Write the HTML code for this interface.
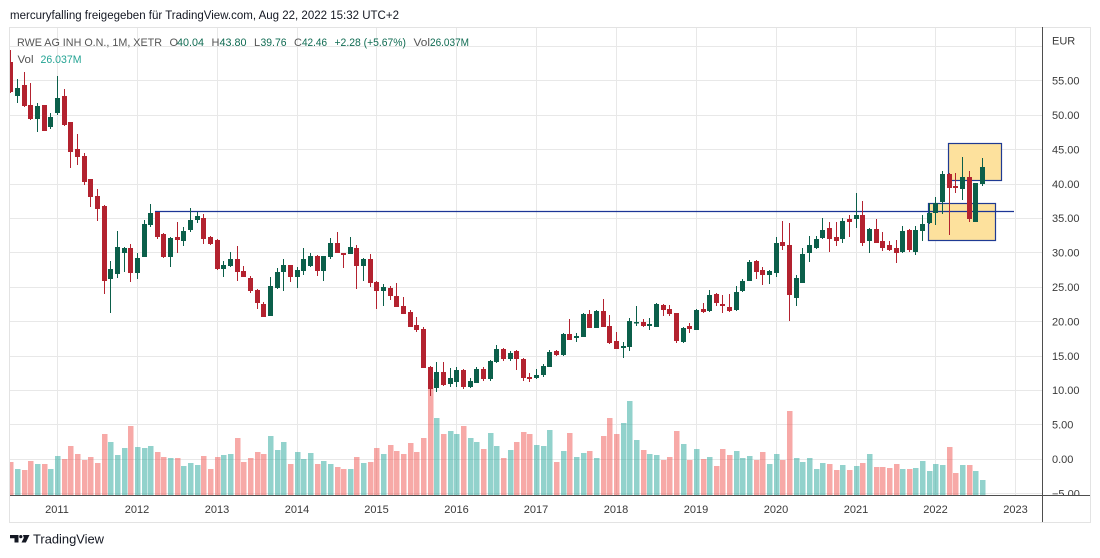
<!DOCTYPE html>
<html><head><meta charset="utf-8"><style>
html,body{margin:0;padding:0;background:#fff;width:1100px;height:558px;overflow:hidden}
svg{display:block;font-family:"Liberation Sans",sans-serif}
</style></head><body>
<svg width="1100" height="558" viewBox="0 0 1100 558" xmlns="http://www.w3.org/2000/svg">
<defs>
<clipPath id="plot"><rect x="10" y="27" width="1032" height="468"/></clipPath>
<clipPath id="axisclip"><rect x="1043" y="27" width="47" height="468"/></clipPath>
</defs>
<rect width="1100" height="558" fill="#fff"/>
<text x="10" y="19" font-size="11.5" fill="#131722" textLength="389" lengthAdjust="spacingAndGlyphs">mercuryfalling freigegeben für TradingView.com, Aug 22, 2022 15:32 UTC+2</text>

<!-- frame -->
<rect x="9.5" y="27.5" width="1081" height="495" fill="none" stroke="#e3e3e3"/>

<!-- grid -->
<g stroke="#e8e8e8" stroke-width="1" fill="none">
<path d="M10 46.5H1042M10 80.5H1042M10 115.5H1042M10 149.5H1042M10 184.5H1042M10 218.5H1042M10 252.5H1042M10 287.5H1042M10 321.5H1042M10 356.5H1042M10 390.5H1042M10 424.5H1042M10 459.5H1042M10 493.5H1042"/>
<path d="M57.5 28V495M137.5 28V495M217.5 28V495M297.5 28V495M376.5 28V495M456.5 28V495M536.5 28V495M616.5 28V495M696.5 28V495M776.5 28V495M856.5 28V495M935.5 28V495M1015.5 28V495"/>
</g>

<g clip-path="url(#plot)">
<!-- volume -->
<path fill="rgba(38,166,154,0.5)" d="M15 469h5.5V495h-5.5zM35 464h5.5V495h-5.5zM48 469h5.5V495h-5.5zM55 456h5.5V495h-5.5zM108 442h5.5V495h-5.5zM115 455h5.5V495h-5.5zM122 448h5.5V495h-5.5zM135 447h5.5V495h-5.5zM142 448h5.5V495h-5.5zM148 446h5.5V495h-5.5zM168 458h5.5V495h-5.5zM181 466h5.5V495h-5.5zM188 463h5.5V495h-5.5zM195 465h5.5V495h-5.5zM221 455h5.5V495h-5.5zM228 454h5.5V495h-5.5zM268 436h5.5V495h-5.5zM275 450h5.5V495h-5.5zM281 442h5.5V495h-5.5zM295 452h5.5V495h-5.5zM301 459h5.5V495h-5.5zM308 453h5.5V495h-5.5zM321 461h5.5V495h-5.5zM328 464h5.5V495h-5.5zM348 469h5.5V495h-5.5zM361 463h5.5V495h-5.5zM381 454h5.5V495h-5.5zM434 418h5.5V495h-5.5zM448 431h5.5V495h-5.5zM454 434h5.5V495h-5.5zM468 438h5.5V495h-5.5zM474 442h5.5V495h-5.5zM488 433h5.5V495h-5.5zM494 446h5.5V495h-5.5zM508 450h5.5V495h-5.5zM534 445h5.5V495h-5.5zM541 446h5.5V495h-5.5zM547 430h5.5V495h-5.5zM561 451h5.5V495h-5.5zM574 457h5.5V495h-5.5zM581 453h5.5V495h-5.5zM594 458h5.5V495h-5.5zM621 423h5.5V495h-5.5zM627 401h5.5V495h-5.5zM634 440h5.5V495h-5.5zM647 454h5.5V495h-5.5zM654 455h5.5V495h-5.5zM681 444h5.5V495h-5.5zM694 449h5.5V495h-5.5zM707 457h5.5V495h-5.5zM734 451h5.5V495h-5.5zM740 458h5.5V495h-5.5zM747 456h5.5V495h-5.5zM767 464h5.5V495h-5.5zM774 454h5.5V495h-5.5zM794 458h5.5V495h-5.5zM800 462h5.5V495h-5.5zM807 458h5.5V495h-5.5zM814 469h5.5V495h-5.5zM820 463h5.5V495h-5.5zM840 465h5.5V495h-5.5zM854 466h5.5V495h-5.5zM867 454h5.5V495h-5.5zM900 469h5.5V495h-5.5zM913 468h5.5V495h-5.5zM920 461h5.5V495h-5.5zM927 471h5.5V495h-5.5zM933 464h5.5V495h-5.5zM940 465h5.5V495h-5.5zM960 465h5.5V495h-5.5zM973 471h5.5V495h-5.5zM980 480h5.5V495h-5.5z"/>
<path fill="rgba(239,83,80,0.5)" d="M8 462h5.5V495h-5.5zM22 470h5.5V495h-5.5zM28 461h5.5V495h-5.5zM42 464h5.5V495h-5.5zM62 459h5.5V495h-5.5zM68 446h5.5V495h-5.5zM75 454h5.5V495h-5.5zM82 460h5.5V495h-5.5zM88 457h5.5V495h-5.5zM95 463h5.5V495h-5.5zM102 434h5.5V495h-5.5zM128 426h5.5V495h-5.5zM155 452h5.5V495h-5.5zM161 457h5.5V495h-5.5zM175 458h5.5V495h-5.5zM201 456h5.5V495h-5.5zM208 469h5.5V495h-5.5zM215 457h5.5V495h-5.5zM235 438h5.5V495h-5.5zM241 462h5.5V495h-5.5zM248 458h5.5V495h-5.5zM255 452h5.5V495h-5.5zM261 454h5.5V495h-5.5zM288 464h5.5V495h-5.5zM315 464h5.5V495h-5.5zM335 467h5.5V495h-5.5zM341 469h5.5V495h-5.5zM354 457h5.5V495h-5.5zM368 462h5.5V495h-5.5zM374 448h5.5V495h-5.5zM388 445h5.5V495h-5.5zM394 451h5.5V495h-5.5zM401 454h5.5V495h-5.5zM408 443h5.5V495h-5.5zM414 452h5.5V495h-5.5zM421 438h5.5V495h-5.5zM428 379h5.5V495h-5.5zM441 434h5.5V495h-5.5zM461 426h5.5V495h-5.5zM481 449h5.5V495h-5.5zM501 458h5.5V495h-5.5zM514 442h5.5V495h-5.5zM521 432h5.5V495h-5.5zM527 434h5.5V495h-5.5zM554 462h5.5V495h-5.5zM567 433h5.5V495h-5.5zM587 451h5.5V495h-5.5zM601 436h5.5V495h-5.5zM607 418h5.5V495h-5.5zM614 434h5.5V495h-5.5zM641 450h5.5V495h-5.5zM661 460h5.5V495h-5.5zM667 457h5.5V495h-5.5zM674 431h5.5V495h-5.5zM687 460h5.5V495h-5.5zM701 459h5.5V495h-5.5zM714 466h5.5V495h-5.5zM720 449h5.5V495h-5.5zM727 455h5.5V495h-5.5zM754 460h5.5V495h-5.5zM760 452h5.5V495h-5.5zM780 460h5.5V495h-5.5zM787 411h5.5V495h-5.5zM827 464h5.5V495h-5.5zM834 470h5.5V495h-5.5zM847 470h5.5V495h-5.5zM860 463h5.5V495h-5.5zM874 467h5.5V495h-5.5zM880 467h5.5V495h-5.5zM887 468h5.5V495h-5.5zM894 464h5.5V495h-5.5zM907 469h5.5V495h-5.5zM947 447h5.5V495h-5.5zM953 473h5.5V495h-5.5zM967 465h5.5V495h-5.5z"/>

<!-- drawings -->
<rect x="948.5" y="143.5" width="53" height="37" fill="#fde19d" stroke="#1f3a93" stroke-width="1.2"/>
<rect x="928.5" y="203.5" width="67" height="37" fill="#fde19d" stroke="#1f3a93" stroke-width="1.2"/>
<path d="M155 211.5H1014" stroke="#1c3596" stroke-width="1.2" fill="none"/>

<!-- candles green -->
<path stroke="#0b5f4a" stroke-width="1" fill="none" d="M17.5 79V103M37.5 103V132M50.5 113V129M57.5 76V115M110.5 261V313M117.5 231V278M124.5 247V272M137.5 253V279M144.5 220V257M150.5 204V227M170.5 237V267M183.5 227V246M190.5 208V232M197.5 212V223M223.5 261V277M230.5 252V267M270.5 277V316M277.5 268V289M283.5 259V291M297.5 267V288M303.5 248V275M310.5 253V267M323.5 256V281M330.5 238V259M350.5 237V254M363.5 258V281M383.5 284V306M436.5 362V392M450.5 368V387M456.5 367V387M470.5 378V388M476.5 367V383M490.5 360V381M496.5 345V363M510.5 351V361M536.5 369V379M543.5 364V377M549.5 350V367M563.5 333V356M576.5 333V342M583.5 313V337M596.5 310V328M623.5 342V358M629.5 318V351M636.5 306V326M649.5 318V330M656.5 303V327M683.5 327V343M696.5 309V330M709.5 290V312M736.5 286V311M742.5 279V292M749.5 260V281M769.5 270V284M776.5 237V277M796.5 275V306M802.5 248V283M809.5 236V262M816.5 236V249M822.5 218V239M842.5 218V243M856.5 193V228M869.5 228V253M902.5 226V253M915.5 226V255M922.5 215V241M929.5 203V224M935.5 197V225M942.5 171V214M962.5 157V200M975.5 183V222M982.5 158V186"/>
<path fill="#0b5f4a" d="M15 88h5v8h-5zM35 106h5v13h-5zM48 117h5v10h-5zM55 98h5v15h-5zM108 269h5v10h-5zM115 247h5v27h-5zM122 248h5v5h-5zM135 258h5v15h-5zM142 224h5v33h-5zM148 213h5v12h-5zM168 238h5v19h-5zM181 231h5v10h-5zM188 220h5v10h-5zM195 216h5v4h-5zM221 265h5v4h-5zM228 259h5v7h-5zM268 286h5v30h-5zM275 272h5v16h-5zM281 265h5v7h-5zM295 270h5v7h-5zM301 259h5v12h-5zM308 256h5v10h-5zM321 256h5v15h-5zM328 243h5v14h-5zM348 247h5v7h-5zM361 259h5v7h-5zM381 287h5v4h-5zM434 372h5v16h-5zM448 378h5v6h-5zM454 370h5v12h-5zM468 381h5v6h-5zM474 369h5v14h-5zM488 361h5v18h-5zM494 349h5v13h-5zM508 353h5v6h-5zM534 375h5v3h-5zM541 366h5v9h-5zM547 352h5v15h-5zM561 334h5v21h-5zM574 336h5v2h-5zM581 314h5v23h-5zM594 311h5v17h-5zM621 346h5v2h-5zM627 321h5v26h-5zM634 322h5v1.5h-5zM647 324h5v2h-5zM654 304h5v23h-5zM681 328h5v14h-5zM694 310h5v20h-5zM707 295h5v16h-5zM734 292h5v18h-5zM740 281h5v10h-5zM747 262h5v19h-5zM767 271h5v4h-5zM774 243h5v30h-5zM794 278h5v20h-5zM800 254h5v29h-5zM807 245h5v8h-5zM814 239h5v9h-5zM820 230h5v8h-5zM840 221h5v18h-5zM854 215h5v4h-5zM867 229h5v12h-5zM900 231h5v21h-5zM913 230h5v22h-5zM920 224h5v7h-5zM927 213h5v10h-5zM933 203h5v10h-5zM940 174h5v28h-5zM960 177h5v12h-5zM973 183h5v39h-5zM980 167h5v17h-5z"/>

<!-- candles red -->
<path stroke="#b3222f" stroke-width="1" fill="none" d="M10.5 50V93M24.5 72V107M30.5 83V120M44.5 105V131M64.5 89V126M70.5 122V168M77.5 134V165M84.5 153V185M90.5 179V207M97.5 189V221M104.5 205V294M130.5 244V282M157.5 212V239M163.5 233V258M177.5 222V253M203.5 214V244M210.5 236V245M217.5 239V270M237.5 246V281M243.5 266V277M250.5 276V293M257.5 289V309M263.5 302V317M290.5 265V282M317.5 255V276M337.5 232V253M343.5 253V268M356.5 245V289M370.5 254V287M376.5 281V309M390.5 286V300M396.5 283V307M403.5 297V314M410.5 310V327M416.5 317V332M423.5 327V368M430.5 366V396M443.5 362V386M463.5 369V389M483.5 367V381M503.5 348V361M516.5 350V370M523.5 358V381M529.5 373V382M556.5 350V356M569.5 319V340M589.5 310V328M603.5 299V327M609.5 315V344M616.5 332V349M643.5 319V327M663.5 304V316M669.5 305V316M676.5 313V343M689.5 323V333M703.5 303V313M716.5 293V306M722.5 295V313M729.5 294V312M756.5 260V279M762.5 267V285M782.5 221V250M789.5 223V321M829.5 222V252M836.5 222V246M849.5 215V237M862.5 201V246M876.5 219V243M882.5 232V251M889.5 241V251M896.5 240V263M909.5 229V252M949.5 173V235M955.5 173V193M969.5 171V222"/>
<path fill="#b3222f" d="M8 62h5v30h-5zM22 85h5v21h-5zM28 105h5v14h-5zM42 105h5v26h-5zM62 96h5v29h-5zM68 122h5v30h-5zM75 149h5v8h-5zM82 156h5v26h-5zM88 179h5v18h-5zM95 196h5v13h-5zM102 206h5v75h-5zM128 248h5v25h-5zM155 212h5v25h-5zM161 234h5v23h-5zM175 237h5v3h-5zM201 218h5v21h-5zM208 237h5v7h-5zM215 240h5v29h-5zM235 259h5v13h-5zM241 271h5v6h-5zM248 278h5v13h-5zM255 290h5v13h-5zM261 304h5v13h-5zM288 265h5v12h-5zM315 256h5v15h-5zM335 243h5v10h-5zM341 253h5v2h-5zM354 248h5v18h-5zM368 259h5v24h-5zM374 282h5v9h-5zM388 288h5v8h-5zM394 296h5v11h-5zM401 306h5v8h-5zM408 312h5v15h-5zM414 325h5v5h-5zM421 329h5v39h-5zM428 367h5v22h-5zM441 372h5v13h-5zM461 370h5v17h-5zM481 369h5v10h-5zM501 349h5v10h-5zM514 351h5v8h-5zM521 359h5v19h-5zM527 377h5v2h-5zM554 351h5v4h-5zM567 334h5v6h-5zM587 314h5v14h-5zM601 311h5v16h-5zM607 326h5v17h-5zM614 341h5v8h-5zM641 322h5v4h-5zM661 305h5v5h-5zM667 309h5v5h-5zM674 313h5v28h-5zM687 326h5v3h-5zM701 309h5v3h-5zM714 294h5v9h-5zM720 304h5v2h-5zM727 307h5v4h-5zM754 261h5v11h-5zM760 270h5v5h-5zM780 242h5v4h-5zM787 245h5v50h-5zM827 228h5v11h-5zM834 237h5v4h-5zM847 219h5v3h-5zM860 215h5v28h-5zM874 229h5v14h-5zM880 241h5v7h-5zM887 245h5v5h-5zM894 248h5v5h-5zM907 230h5v20h-5zM947 174h5v14h-5zM953 186h5v2h-5zM967 177h5v42h-5z"/>
</g>

<!-- legend -->
<g font-size="11">
<text x="17" y="46" fill="#555" textLength="145" lengthAdjust="spacingAndGlyphs">RWE AG INH O.N., 1M, XETR</text>
<text x="169.5" y="46" fill="#555">O</text><text x="177" y="46" fill="#0f6b52" textLength="27" lengthAdjust="spacingAndGlyphs">40.04</text>
<text x="211.5" y="46" fill="#555">H</text><text x="219.5" y="46" fill="#0f6b52" textLength="27" lengthAdjust="spacingAndGlyphs">43.80</text>
<text x="254" y="46" fill="#555">L</text><text x="260.5" y="46" fill="#0f6b52" textLength="26" lengthAdjust="spacingAndGlyphs">39.76</text>
<text x="294" y="46" fill="#555">C</text><text x="302" y="46" fill="#0f6b52" textLength="25" lengthAdjust="spacingAndGlyphs">42.46</text>
<text x="334.5" y="46" fill="#0f6b52" textLength="71.5" lengthAdjust="spacingAndGlyphs">+2.28 (+5.67%)</text>
<text x="413.5" y="46" fill="#555" textLength="16.5" lengthAdjust="spacingAndGlyphs">Vol</text><text x="430" y="46" fill="#0f6b52" textLength="39" lengthAdjust="spacingAndGlyphs">26.037M</text>
<text x="17.5" y="63" fill="#555" textLength="16" lengthAdjust="spacingAndGlyphs">Vol</text><text x="40.5" y="63" fill="#22a393" textLength="41" lengthAdjust="spacingAndGlyphs">26.037M</text>
</g>

<!-- axes -->
<path d="M1042.5 27V522" stroke="#4e4e4e" stroke-width="1"/>
<path d="M10 495.5H1090" stroke="#4e4e4e" stroke-width="1"/>

<g font-size="11" fill="#3a3a3a">
<text x="1052" y="44.5">EUR</text>
<text x="1052" y="84.5">55.00</text>
<text x="1052" y="119">50.00</text>
<text x="1052" y="153.5">45.00</text>
<text x="1052" y="188">40.00</text>
<text x="1052" y="222">35.00</text>
<text x="1052" y="256.5">30.00</text>
<text x="1052" y="291">25.00</text>
<text x="1052" y="325.5">20.00</text>
<text x="1052" y="360">15.00</text>
<text x="1052" y="394">10.00</text>
<text x="1052" y="428.5">5.00</text>
<text x="1052" y="463">0.00</text>
<text x="1052" y="497.5" clip-path="url(#axisclip)">−5.00</text>
</g>

<g font-size="11" fill="#3a3a3a" text-anchor="middle">
<text x="57" y="513">2011</text>
<text x="137" y="513">2012</text>
<text x="217" y="513">2013</text>
<text x="297" y="513">2014</text>
<text x="376.5" y="513">2015</text>
<text x="456.5" y="513">2016</text>
<text x="536" y="513">2017</text>
<text x="616" y="513">2018</text>
<text x="696" y="513">2019</text>
<text x="776" y="513">2020</text>
<text x="856" y="513">2021</text>
<text x="935.5" y="513">2022</text>
<text x="1015.5" y="513">2023</text>
</g>

<!-- logo -->
<g fill="#131722">
<path d="M10 535h8.5v7.5h-4v-4.3H10z"/>
<circle cx="20.8" cy="536.6" r="1.6"/>
<path d="M23 535h6.5l-3.6 7.5h-4.4l2.3-4.6z"/>
<text x="33" y="543.5" font-size="12.5" textLength="71" lengthAdjust="spacingAndGlyphs">TradingView</text>
</g>
</svg>
</body></html>
